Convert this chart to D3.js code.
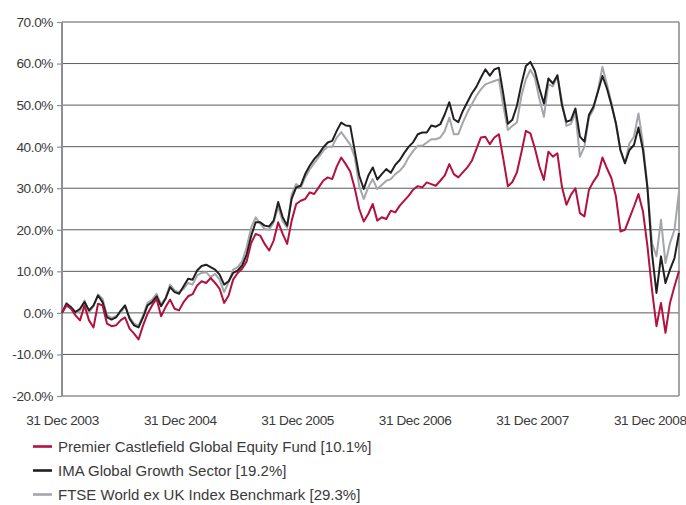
<!DOCTYPE html>
<html>
<head>
<meta charset="utf-8">
<script src="https://cdn.jsdelivr.net/npm/d3@7"></script>
<style>
  body { margin: 0; background: #fff; }
  text { font-family: "Liberation Sans", Arial, sans-serif; fill: #3a3a3a; }
</style>
</head>
<body>
<div id="chart"></div>
<script>
// fortnightly observations starting 31 Dec 2003
var startDate = new Date(2003, 11, 31);
var stepDays = 14;

// cumulative performance (%)
var fundValues = [
  0, 1.8, 1.0, -0.6, -1.8, 1.8, -1.8, -3.5, 2.2, 1.8,
  -2.6, -3.2, -3.0, -1.8, -1.1, -3.8, -5.0, -6.4, -3.0, -0.2,
  1.8, 3.4, -0.8, 1.4, 3.2, 1.0, 0.6, 2.6, 4.0, 4.5,
  6.6, 7.6, 7.2, 8.4, 7.2, 5.8, 2.4, 4.2, 8.0, 9.6,
  10.6, 12.4, 16.8, 19.0, 18.6, 16.6, 15.0, 17.4, 21.8, 19.0,
  16.6, 22.2, 26.2, 27.0, 27.4, 29.0, 28.6, 30.2, 31.8, 32.6,
  32.2, 35.2, 37.4, 35.8, 34.0, 30.0, 25.0, 22.0, 23.8, 26.2,
  22.2, 23.0, 22.6, 24.6, 24.2, 25.8, 27.0, 28.2, 29.7, 30.5,
  30.2, 31.4, 31.0, 30.6, 31.8, 33.1, 35.8, 33.4, 32.6, 33.8,
  35.0, 36.6, 39.4, 42.2, 42.4, 40.6, 42.2, 43.0, 37.0, 30.5,
  31.5, 33.8, 38.6, 43.8, 43.2, 39.6, 35.2, 32.0, 38.8, 37.6,
  38.4, 30.4, 26.0, 28.4, 30.0, 24.0, 23.2, 29.6, 31.6, 33.2,
  37.4, 34.8, 32.4, 28.0, 19.6, 20.0, 22.8, 25.6, 28.6, 24.4,
  16.0, 5.6, -3.2, 2.4, -4.8, 2.4, 6.4, 10.1
];

var sectorValues = [
  0, 2.2, 1.4, 0.2, 1.0, 2.6, 0.6, 1.8, 4.2, 2.6,
  -1.1, -1.6, -1.1, 0.5, 1.8, -1.4, -3.0, -3.5, -1.1, 1.8,
  2.6, 4.0, 1.6, 3.4, 6.2, 5.0, 4.6, 6.4, 8.2, 8.0,
  10.2, 11.3, 11.6, 11.0, 10.4, 9.2, 6.8, 7.6, 9.6, 10.2,
  11.4, 14.0, 18.5, 21.8, 21.8, 21.0, 20.8, 22.2, 26.7, 23.0,
  21.0, 27.5, 30.2, 30.6, 33.4, 35.4, 37.0, 38.2, 39.8, 41.0,
  41.4, 43.8, 45.8, 45.1, 45.0, 39.0, 33.0, 29.8, 33.0, 35.0,
  32.1, 33.4, 34.6, 33.7, 35.6, 36.8, 38.5, 40.0, 41.1, 43.0,
  43.4, 43.4, 45.1, 44.8, 45.4, 47.8, 50.7, 46.6, 45.9, 48.6,
  50.7, 52.8, 54.4, 56.6, 58.6, 57.1, 58.6, 59.0, 52.6, 45.5,
  46.5, 49.8, 55.0, 59.4, 60.4, 58.2, 54.0, 50.4, 56.4, 55.2,
  57.2, 50.0, 46.0, 46.4, 49.2, 42.4, 41.2, 47.6, 49.6, 53.2,
  57.0, 54.0, 50.0, 45.6, 39.2, 36.0, 39.2, 40.4, 44.6, 39.2,
  30.0, 14.4, 4.8, 13.6, 7.2, 10.4, 13.2, 19.2
];

var benchmarkValues = [
  0, 2.4, 1.2, 0.0, 0.6, 3.0, 0.2, 1.6, 4.4, 3.4,
  -0.6, -1.2, -0.8, 0.0, 1.6, -1.0, -2.6, -3.0, -0.6, 2.4,
  3.2, 4.6, 2.0, 3.6, 6.8, 5.4, 5.0, 5.8, 7.2, 6.8,
  9.0, 9.6, 9.8, 8.6, 9.4, 8.0, 5.0, 7.4, 10.4, 11.0,
  12.4, 15.8, 20.5, 23.0, 21.5, 20.2, 20.0, 21.8, 25.5, 22.0,
  20.5, 28.5, 31.0, 30.0, 32.6, 34.5, 36.0, 37.5, 39.0, 40.0,
  40.0, 42.2, 43.5, 42.0, 40.5, 37.5, 30.5, 27.4, 30.2, 32.2,
  29.8, 30.8, 31.8, 32.2, 33.4, 34.2, 35.5, 37.5, 39.0, 40.2,
  40.2, 41.0, 41.8, 41.8, 42.2, 43.8, 47.0, 43.0, 43.0, 45.8,
  48.2, 50.2, 52.2, 53.8, 55.0, 55.4, 55.8, 56.2, 49.8, 44.0,
  45.0, 45.8, 52.2, 56.2, 58.5, 56.5, 51.5, 47.2, 55.0, 54.5,
  57.0, 51.0, 45.0, 45.5, 48.0, 37.6, 40.0, 47.0, 49.0, 53.5,
  59.2, 55.0, 50.5, 45.5, 39.0, 36.0, 40.8, 42.4, 48.0, 40.8,
  30.4, 16.8, 13.6, 22.4, 12.0, 16.8, 20.0, 29.3
];

var seriesNames = [
  "Premier Castlefield Global Equity Fund [10.1%]",
  "IMA Global Growth Sector [19.2%]",
  "FTSE World ex UK Index Benchmark [29.3%]"
];
var seriesColors = ["#b3123e", "#231f20", "#a3a6aa"];

var yTicks = [-20, -10, 0, 10, 20, 30, 40, 50, 60, 70];
var xTickYears = [2003, 2004, 2005, 2006, 2007, 2008];

var svgWidth = 686;
var svgHeight = 505;
var margin = { top: 22, right: 7, bottom: 109, left: 62 };
var width = svgWidth - margin.left - margin.right;
var height = svgHeight - margin.top - margin.bottom;

var svg = d3.select("#chart")
  .append("svg")
  .attr("width", svgWidth)
  .attr("height", svgHeight);

var chart = svg.append("g")
  .attr("transform", `translate(${margin.left}, ${margin.top})`);

var dates = fundValues.map(function(v, i) {
  return d3.timeDay.offset(startDate, i * stepDays);
});

var xScale = d3.scaleTime()
  .domain([startDate, dates[dates.length - 1]])
  .range([0, width]);

var yScale = d3.scaleLinear()
  .domain([-20, 70])
  .range([height, 0]);

// horizontal gridlines
chart.append("g")
  .selectAll("line")
  .data(yTicks)
  .enter()
  .append("line")
  .attr("x1", 0)
  .attr("x2", width)
  .attr("y1", d => yScale(d))
  .attr("y2", d => yScale(d))
  .attr("stroke", d => d === -20 ? "#8c8f93" : "#5a5a5a")
  .attr("stroke-width", d => d === -20 ? 1.6 : 1);

// y axis
var yAxis = d3.axisLeft(yScale)
  .tickValues(yTicks)
  .tickSize(5)
  .tickPadding(4)
  .tickFormat(d => d.toFixed(1) + "%");

var yAxisG = chart.append("g").call(yAxis);
yAxisG.select(".domain").remove();
yAxisG.selectAll(".tick line").attr("stroke", "#8c8f93").attr("stroke-width", 1.2);
yAxisG.selectAll(".tick text")
  .attr("font-size", "13.6px")
  .attr("letter-spacing", "-0.4px")
  .style("font-family", "Liberation Sans, Arial, sans-serif")
  .attr("fill", "#3a3a3a");

// frame: left axis and right border
chart.append("line")
  .attr("x1", 0).attr("x2", 0)
  .attr("y1", 0).attr("y2", height)
  .attr("stroke", "#8c8f93").attr("stroke-width", 2);
chart.append("line")
  .attr("x1", width).attr("x2", width)
  .attr("y1", 0).attr("y2", height)
  .attr("stroke", "#8c8f93").attr("stroke-width", 1.6);

// x axis labels at year ends
var xAxis = d3.axisBottom(xScale)
  .tickValues(xTickYears.map(y => new Date(y, 11, 31)))
  .tickSize(0)
  .tickPadding(19)
  .tickFormat(d => "31 Dec " + d.getFullYear());

var xAxisG = chart.append("g")
  .attr("transform", `translate(0, ${height})`)
  .call(xAxis);
xAxisG.select(".domain").remove();
xAxisG.selectAll(".tick text")
  .attr("font-size", "13.6px")
  .attr("letter-spacing", "-0.4px")
  .style("font-family", "Liberation Sans, Arial, sans-serif")
  .attr("fill", "#3a3a3a");

// lines: benchmark first, then sector, fund on top
var allSeries = [fundValues, sectorValues, benchmarkValues];
var line = d3.line()
  .x((d, i) => xScale(dates[i]))
  .y(d => yScale(d));

[2, 1, 0].forEach(function(k) {
  chart.append("path")
    .datum(allSeries[k])
    .attr("fill", "none")
    .attr("stroke", seriesColors[k])
    .attr("stroke-width", 2)
    .attr("stroke-linejoin", "round")
    .attr("d", line);
});

// legend
var legend = svg.append("g")
  .selectAll("g")
  .data(seriesNames)
  .enter()
  .append("g")
  .attr("transform", (d, i) => `translate(33, ${446.5 + i * 24})`);

legend.append("line")
  .attr("x1", 0).attr("x2", 19)
  .attr("y1", 0).attr("y2", 0)
  .attr("stroke", (d, i) => seriesColors[i])
  .attr("stroke-width", 2.6);

legend.append("text")
  .attr("x", 25)
  .attr("y", 5.5)
  .attr("font-size", "15px")
  .text(d => d);
</script>
</body>
</html>
